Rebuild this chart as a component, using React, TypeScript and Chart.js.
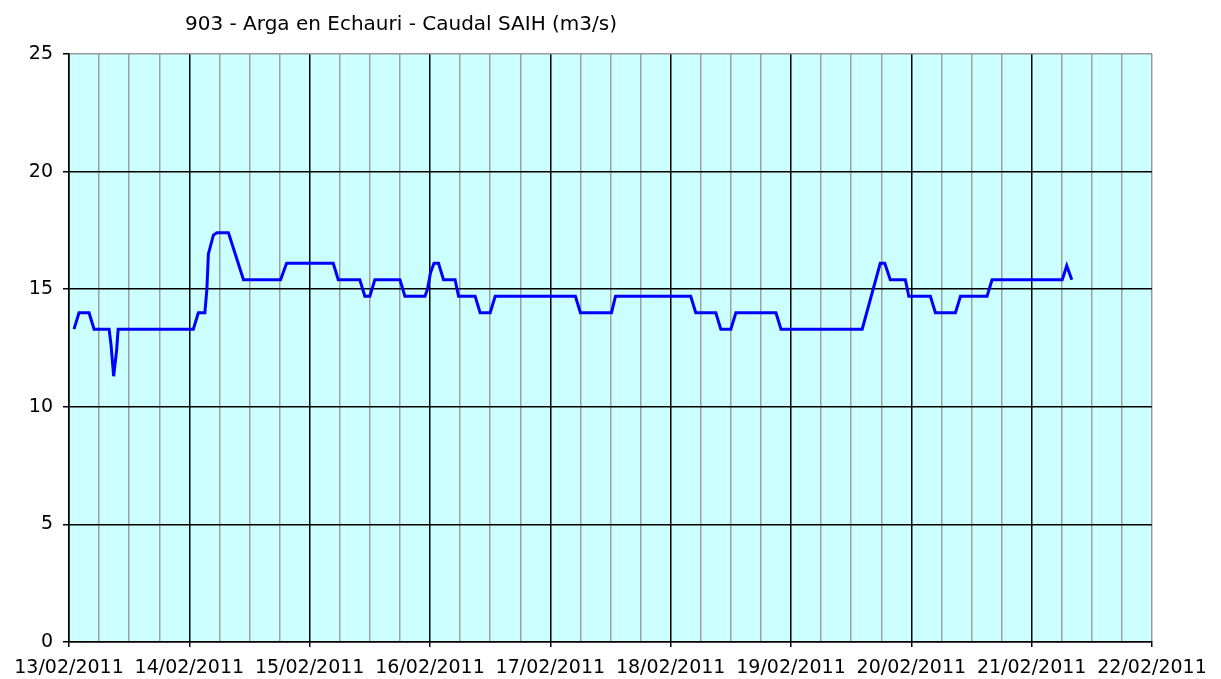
import React, { useEffect, useRef } from "react";
import { Chart, registerables } from "chart.js";

Chart.register(...registerables);

const TITLE = "903 - Arga en Echauri - Caudal SAIH (m3/s)";
const DAY_LABELS = [
  "13/02/2011", "14/02/2011", "15/02/2011", "16/02/2011", "17/02/2011",
  "18/02/2011", "19/02/2011", "20/02/2011", "21/02/2011", "22/02/2011",
];
// hours since 13/02/2011 00:00
const HOURS = [
  1, 2, 4, 5, 8, 8.4, 8.9, 9.5, 9.8,
  24.8, 25.8, 27.1, 27.5, 27.8, 28.8, 29.5, 31.8, 34.8,
  42.2, 43.4, 52.7, 53.7, 58, 59, 60, 61, 66, 67, 71,
  71.5, 72.1, 72.8, 73.7, 74.7, 77, 77.7, 81, 82, 84, 85,
  101, 102, 108.2, 109, 124, 125, 129, 130, 132, 133, 141, 142,
  158.2, 161.8, 162.7, 163.8, 166.8, 167.5, 171.8, 172.8, 176.8, 177.8,
  183.1, 184.1, 198.1, 199, 200,
];
const FLOW = [
  13.3, 14.0, 14.0, 13.3, 13.3, 12.6, 11.3, 12.4, 13.3,
  13.3, 14.0, 14.0, 15.0, 16.5, 17.3, 17.4, 17.4, 15.4,
  15.4, 16.1, 16.1, 15.4, 15.4, 14.7, 14.7, 15.4, 15.4, 14.7, 14.7,
  15.0, 15.7, 16.1, 16.1, 15.4, 15.4, 14.7, 14.7, 14.0, 14.0, 14.7,
  14.7, 14.0, 14.0, 14.7, 14.7, 14.0, 14.0, 13.3, 13.3, 14.0, 14.0, 13.3,
  13.3, 16.1, 16.1, 15.4, 15.4, 14.7, 14.7, 14.0, 14.0, 14.7,
  14.7, 15.4, 15.4, 16.0, 15.4,
];
const Y_MIN = 0;
const Y_MAX = 25;
const Y_STEP = 5;
const X_MAX_HOURS = 216;
const X_STEP_HOURS = 6;

const FONT = "DejaVu Sans";

const plotBg = {
  id: "plotBg",
  beforeDraw(chart: any) {
    const { ctx, chartArea } = chart;
    ctx.save();
    ctx.fillStyle = "#CCFFFF";
    ctx.fillRect(chartArea.left, chartArea.top, chartArea.right - chartArea.left, chartArea.bottom - chartArea.top);
    ctx.restore();
  },
  afterDraw(chart: any) {
    const { ctx } = chart;
    ctx.save();
    ctx.font = `20px "${FONT}"`;
    ctx.fillStyle = "#000";
    ctx.textAlign = "left";
    ctx.textBaseline = "alphabetic";
    ctx.fillText(TITLE, 185, 30);
    ctx.restore();
  },
};

export default function App() {
  const ref = useRef<HTMLCanvasElement>(null);
  useEffect(() => {
    if (!ref.current) return;
    const points = HOURS.map((h, i) => ({ x: h, y: FLOW[i] }));
    const chart = new Chart(ref.current, {
      type: "line",
      data: {
        datasets: [
          {
            data: points,
            borderColor: "#0000FF",
            borderWidth: 3,
            pointRadius: 0,
            tension: 0,
            fill: false,
          },
        ],
      },
      options: {
        animation: false,
        responsive: false,
        maintainAspectRatio: false,
        layout: { padding: { left: 0, right: 69, top: 54, bottom: 0 } },
        plugins: { legend: { display: false }, title: { display: false }, tooltip: { enabled: false } },
        scales: {
          x: {
            type: "linear",
            min: 0,
            max: X_MAX_HOURS,
            afterFit: (s: any) => { s.height = 37; },
            afterBuildTicks: (s: any) => {
              const t = [];
              for (let v = 0; v <= X_MAX_HOURS; v += X_STEP_HOURS) t.push({ value: v });
              s.ticks = t;
            },
            ticks: {
              autoSkip: false,
              maxRotation: 0,
              minRotation: 0,
              padding: 10,
              color: "#000",
              font: { family: FONT, size: 19 },
              callback: (v: any) => (Number(v) % 24 === 0 ? DAY_LABELS[Number(v) / 24] : ""),
            },
            grid: {
              lineWidth: 1.5,
              tickLength: 5,
              color: (c: any) => {
                const v = c.tick ? c.tick.value : 0;
                if (v === X_MAX_HOURS) return "#999999";
                return v % 24 === 0 ? "#000000" : "#A0A0A0";
              },
              tickColor: (c: any) => {
                const v = c.tick ? c.tick.value : 0;
                return v % 24 === 0 ? "#000000" : "rgba(0,0,0,0)";
              },
            },
            border: { color: "#000", width: 1.5 },
          },
          y: {
            min: Y_MIN,
            max: Y_MAX,
            afterFit: (s: any) => { s.width = 69; },
            ticks: {
              stepSize: Y_STEP,
              padding: 10,
              color: "#000",
              font: { family: FONT, size: 19 },
            },
            grid: {
              lineWidth: 1.5,
              tickLength: 6,
              color: (c: any) => (c.tick && c.tick.value === Y_MAX ? "#999999" : "#000000"),
              tickColor: "#000000",
            },
            border: { color: "#000", width: 1.5 },
          },
        },
      },
      plugins: [plotBg],
    });
    return () => chart.destroy();
  }, []);
  return (
    <div style={{ position: "fixed", left: 0, top: 0, width: 1221, height: 679, background: "#fff" }}>
      <canvas ref={ref} width={1221} height={679} style={{ width: 1221, height: 679 }} />
    </div>
  );
}
